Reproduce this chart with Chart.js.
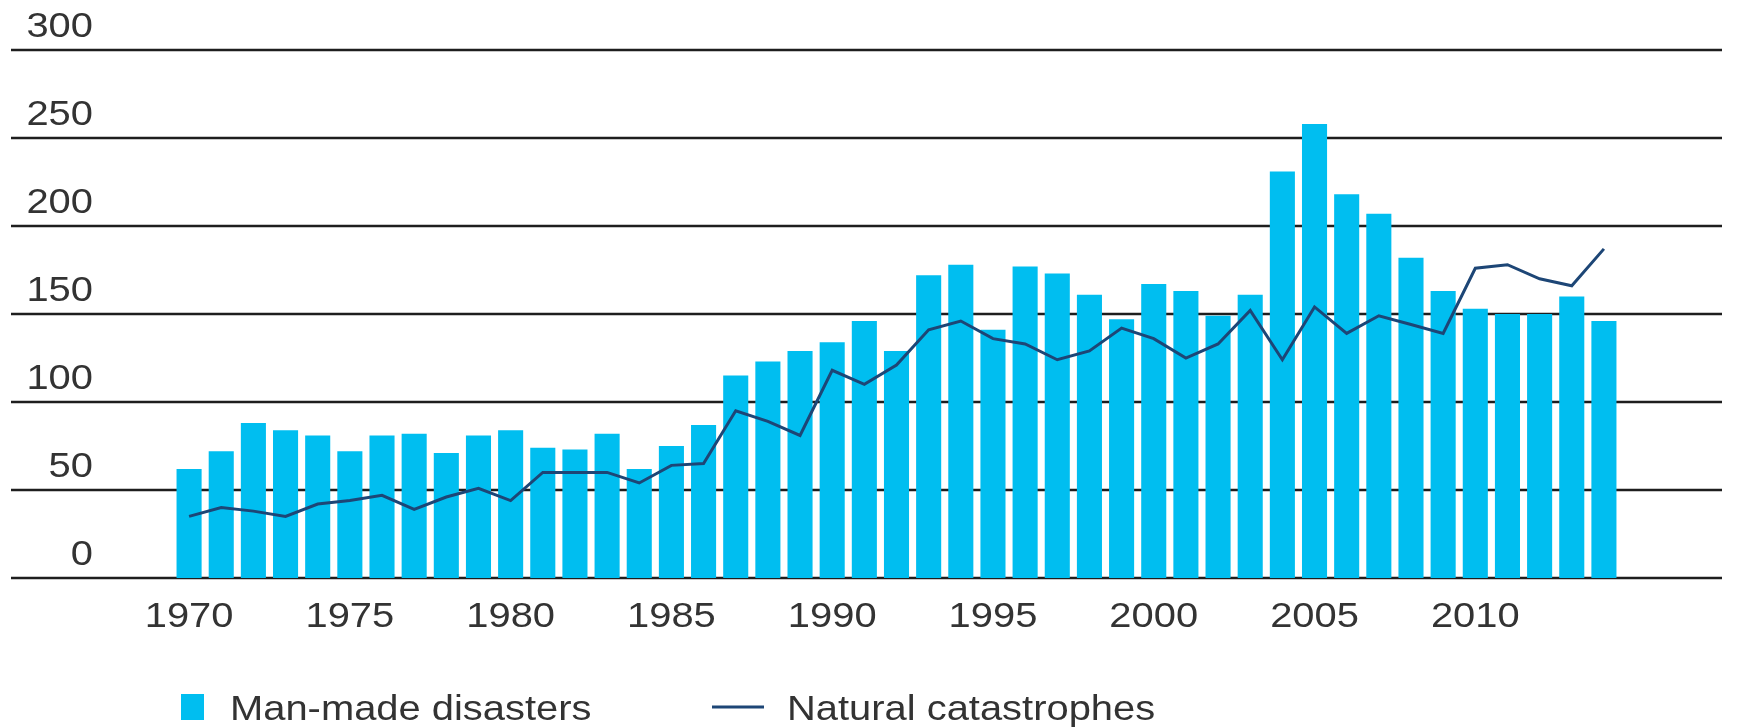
<!DOCTYPE html>
<html>
<head>
<meta charset="utf-8">
<script src="https://cdn.jsdelivr.net/npm/chart.js@4.4.0/dist/chart.umd.min.js"></script>
<style>
  html, body { margin: 0; padding: 0; background: #ffffff; }
  #wrap { width: 1740px; height: 727px; }
</style>
</head>
<body>
<div id="wrap"><canvas id="myChart"></canvas></div>
<script>
// Years along the x-axis
const years = [1970, 1971, 1972, 1973, 1974, 1975, 1976, 1977, 1978, 1979,
               1980, 1981, 1982, 1983, 1984, 1985, 1986, 1987, 1988, 1989,
               1990, 1991, 1992, 1993, 1994, 1995, 1996, 1997, 1998, 1999,
               2000, 2001, 2002, 2003, 2004, 2005, 2006, 2007, 2008, 2009,
               2010, 2011, 2012, 2013, 2014];
// Years that get a label under the bars
const tickYears = [1970, 1975, 1980, 1985, 1990, 1995, 2000, 2005, 2010];
// Values that get a gridline and a label
const yTicks = [0, 50, 100, 150, 200, 250, 300];

// Number of man-made disasters per year (bars)
const manMade = [62, 72, 88, 84, 81, 72, 81, 82, 71, 81,
                 84, 74, 73, 82, 62, 75, 87, 115, 123, 129,
                 134, 146, 129, 172, 178, 141, 177, 173, 161, 147,
                 167, 163, 149, 161, 231, 258, 218, 207, 182, 163,
                 153, 150, 150, 160, 146];
// Number of natural catastrophes per year (line)
const natural = [35, 40, 38, 35, 42, 44, 47, 39, 46, 51,
                 44, 60, 60, 60, 54, 64, 65, 95, 89, 81,
                 118, 110, 121, 141, 146, 136, 133, 124, 129, 142,
                 136, 125, 133, 152, 124, 154, 139, 149, 144, 139,
                 176, 178, 170, 166, 187];

const fontFamily = "'Liberation Sans', Arial, sans-serif";
const fontSize = 35;
const textStretch = 1.14;   // the type is set slightly wide
const textColor = '#333333';
const barColor = '#00BEF0';
const lineColor = '#1D4676';

// Draw text widened horizontally around its anchor point
function wideText(ctx, text, x, y, align) {
    ctx.save();
    ctx.translate(x, y);
    ctx.scale(textStretch, 1);
    ctx.textAlign = align;
    ctx.fillText(text, 0, 0);
    ctx.restore();
}

// Gridlines across the full width, value written above each line, years under the bars
const axesPlugin = {
    id: 'customAxes',
    beforeDatasetsDraw(chart) {
        const ctx = chart.ctx;
        const xScale = chart.scales.x;
        const yScale = chart.scales.y;
        ctx.save();
        ctx.strokeStyle = '#1E1E1E';
        ctx.lineWidth = 2.5;
        ctx.font = `${fontSize}px ${fontFamily}`;
        ctx.fillStyle = textColor;
        ctx.textBaseline = 'alphabetic';
        yTicks.forEach(v => {
            const py = yScale.getPixelForValue(v);
            ctx.beginPath();
            ctx.moveTo(11, py);
            ctx.lineTo(1722, py);
            ctx.stroke();
            wideText(ctx, String(v), 93, py - 13, 'right');
        });
        const baseY = yScale.getPixelForValue(0) + 49;
        tickYears.forEach(year => {
            const px = xScale.getPixelForValue(years.indexOf(year));
            wideText(ctx, String(year), px, baseY, 'center');
        });
        ctx.restore();
    }
};

// Legend under the year labels: a square for the bars, a short stroke for the line
const legendPlugin = {
    id: 'bottomLegend',
    afterDraw(chart) {
        const ctx = chart.ctx;
        const [bars, line] = chart.data.datasets;
        const baseY = 720;
        const midY = 707;
        ctx.save();
        ctx.font = `${fontSize}px ${fontFamily}`;
        ctx.textBaseline = 'alphabetic';

        ctx.fillStyle = bars.backgroundColor;
        ctx.fillRect(181, midY - 13, 23, 26);
        ctx.fillStyle = textColor;
        wideText(ctx, bars.label, 230, baseY, 'left');

        ctx.strokeStyle = line.borderColor;
        ctx.lineWidth = line.borderWidth;
        ctx.beginPath();
        ctx.moveTo(712, midY);
        ctx.lineTo(764, midY);
        ctx.stroke();
        ctx.fillStyle = textColor;
        wideText(ctx, line.label, 787, baseY, 'left');
        ctx.restore();
    }
};

let myChart;

function createChart() {
    const ctx = document.getElementById('myChart').getContext('2d');
    myChart = new Chart(ctx, {
        type: 'bar',
        data: {
            labels: years,
            datasets: [{
                type: 'bar',
                label: 'Man-made disasters',
                data: manMade,
                backgroundColor: barColor,
                barPercentage: 0.78,
                categoryPercentage: 1,
                order: 2
            }, {
                type: 'line',
                label: 'Natural catastrophes',
                data: natural,
                borderColor: lineColor,
                borderWidth: 3,
                pointRadius: 0,
                tension: 0,
                order: 1
            }]
        },
        options: {
            responsive: true,
            maintainAspectRatio: false,
            animation: false,
            layout: {
                padding: { left: 173, right: 120, top: 50, bottom: 149 }
            },
            plugins: {
                legend: { display: false },
                tooltip: { enabled: false }
            },
            scales: {
                x: { display: false },
                y: { display: false, min: 0, max: 300 }
            }
        },
        plugins: [axesPlugin, legendPlugin]
    });
}

document.addEventListener('DOMContentLoaded', createChart);
</script>
</body>
</html>
